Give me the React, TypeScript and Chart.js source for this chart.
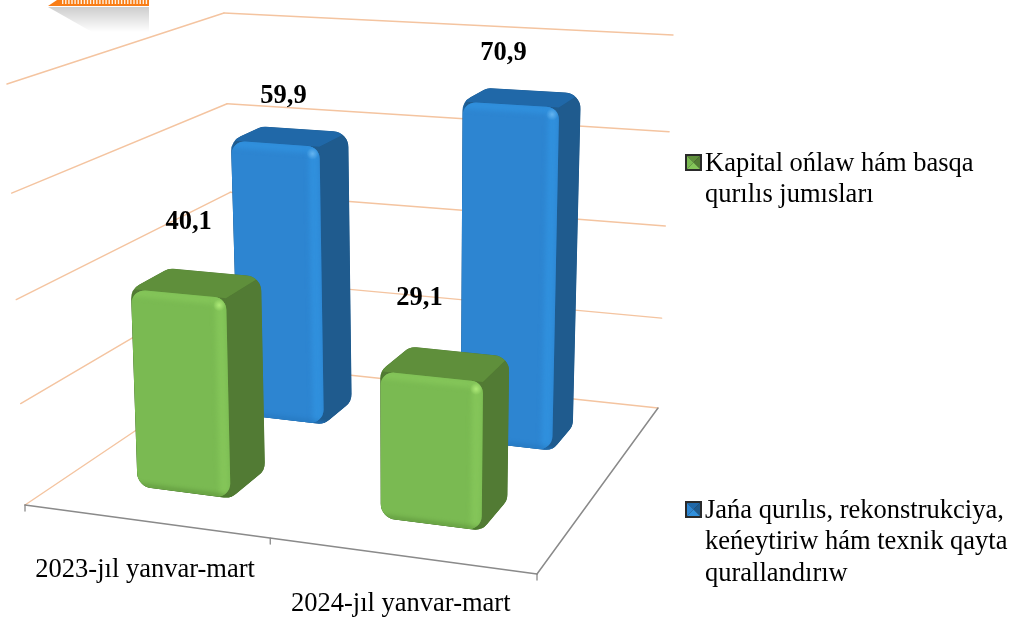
import React, { useEffect, useRef } from "react";
import { Chart, registerables } from "chart.js";
Chart.register(...registerables);

const categories = ["2023-jıl yanvar-mart", "2024-jıl yanvar-mart"];
const greenName = "Kapital ońlaw hám basqa qurılıs jumısları";
const blueName = "Jańa qurılıs, rekonstrukciya, keńeytiriw hám texnik qayta qurallandırıw";
const greenValues = [40.1, 29.1];
const blueValues = [59.9, 70.9];
const greenLegendLines = ["Kapital ońlaw hám basqa", "qurılıs jumısları"];
const blueLegendLines = ["Jańa qurılıs, rekonstrukciya,", "keńeytiriw hám texnik qayta", "qurallandırıw"];

type P = [number, number];
const FLOOR: P[] = [[25, 505], [537, 574], [658, 408], [236, 363]];
const TOP: P[] = [[7, 84], [544.5, 118], [673, 35], [224, 13]];
const FONT = '"Liberation Serif", serif';
const FONT_SIZE = 26.5;
const DEPTH = 0.17;
const DEPTH_CENTRES = [0.25, 0.73];
const U_SHIFTS = [0.002, 0.008];
const TOP_DROP = 0.01;
const GRID = "#f4c4a0";
const AXIS = "#8a8a8a";

const PALETTE = [
  { front: "#7aba52", rim: "#84c559", side: "#527b34", top: "#5f8f3b", edge: "#4a7a2c", spot: "#aeea78" },
  { front: "#2d85d1", rim: "#3090dd", side: "#1f5b8e", top: "#2068a8", edge: "#1f6cb0", spot: "#64b4f0" },
];
const LABEL_OFFSETS: P[][] = [
  [[-7, -59], [-25, -64]],
  [[-3, -38], [-15, -42]],
];
const LEGENDS = [
  { lines: greenLegendLines, marker: [685, 154], x: 705, y: [171, 202] },
  { lines: blueLegendLines, marker: [685, 501], x: 705, y: [518, 549, 581] },
];
const CATEGORY_LABEL_DY = 47.5;

function homography(q: P[]) {
  const [[x0, y0], [x1, y1], [x2, y2], [x3, y3]] = q;
  const dx1 = x1 - x2, dx2 = x3 - x2, sx = x0 - x1 + x2 - x3;
  const dy1 = y1 - y2, dy2 = y3 - y2, sy = y0 - y1 + y2 - y3;
  const den = dx1 * dy2 - dx2 * dy1;
  const g = (sx * dy2 - dx2 * sy) / den;
  const h = (dx1 * sy - sx * dy1) / den;
  const a = x1 - x0 + g * x1, b = x3 - x0 + h * x3, c = x0;
  const d = y1 - y0 + g * y1, e = y3 - y0 + h * y3, f = y0;
  return (u: number, v: number): P => {
    const w = g * u + h * v + 1;
    return [(a * u + b * v + c) / w, (d * u + e * v + f) / w];
  };
}
const floorH = homography(FLOOR);
const topH = homography(TOP);
function project(u: number, d: number, v: number): P {
  const a = floorH(u, d), b = topH(u, d);
  const s = v / (v + (1 - v) * 1.05);
  return [a[0] + (b[0] - a[0]) * s, a[1] + (b[1] - a[1]) * s];
}

function poly(ctx: CanvasRenderingContext2D, pts: P[], r = 0) {
  ctx.beginPath();
  const n = pts.length;
  if (!r) {
    pts.forEach((p, i) => (i ? ctx.lineTo(p[0], p[1]) : ctx.moveTo(p[0], p[1])));
  } else {
    const m: P = [(pts[n - 1][0] + pts[0][0]) / 2, (pts[n - 1][1] + pts[0][1]) / 2];
    ctx.moveTo(m[0], m[1]);
    for (let i = 0; i < n; i++) {
      const a = pts[i], b = pts[(i + 1) % n];
      const l1 = Math.hypot(b[0] - a[0], b[1] - a[1]);
      const rr = Math.min(r, l1 / 2.2);
      ctx.arcTo(a[0], a[1], b[0], b[1], rr);
    }
  }
  ctx.closePath();
}
function line(ctx: CanvasRenderingContext2D, a: P, b: P, color: string, w: number) {
  ctx.strokeStyle = color;
  ctx.lineWidth = w;
  ctx.beginPath();
  ctx.moveTo(a[0], a[1]);
  ctx.lineTo(b[0], b[1]);
  ctx.stroke();
}
const shift = (p: P, dx: number, dy: number): P => [p[0] + dx, p[1] + dy];

function drawBar(ctx: CanvasRenderingContext2D, uL: number, uR: number, dF: number, dB: number, v: number, c: typeof PALETTE[0]) {
  const FLb = project(uL, dF, 0), FRb = project(uR, dF, 0), BRb = project(uR, dB, 0);
  const FLt = project(uL, dF, v), FRt = project(uR, dF, v), BRt = project(uR, dB, v), BLt = project(uL, dB, v);
  ctx.save();
  poly(ctx, [FLb, FRb, BRb, BRt, BLt, FLt], 16);
  ctx.fillStyle = c.side;
  ctx.fill();
  ctx.clip();
  poly(ctx, [FLt, FRt, BRt, BLt]);
  ctx.fillStyle = c.top;
  ctx.fill();
  poly(ctx, [FRb, BRb, BRt, FRt]);
  ctx.fillStyle = c.side;
  ctx.fill();
  ctx.save();
  ctx.filter = "blur(1.5px)";
  line(ctx, FLb, FRb, c.edge, 6);
  line(ctx, FLb, FLt, c.edge, 3);
  ctx.restore();
  poly(ctx, [FLb, FRb, FRt, FLt], 13);
  ctx.fillStyle = c.front;
  ctx.fill();
  ctx.save();
  poly(ctx, [FLb, FRb, FRt, FLt], 13);
  ctx.clip();
  ctx.filter = "blur(2.5px)";
  line(ctx, shift(FLt, 0, 3), shift(FRt, 0, 3), c.rim, 8);
  line(ctx, shift(FRt, -6, 0), shift(FRb, -6, 0), c.rim, 10);
  line(ctx, shift(FLb, 0, -1), shift(FRb, 0, -1), c.edge, 2);
  ctx.restore();
  const sp = shift(FRt, -7, 7);
  const g = ctx.createRadialGradient(sp[0], sp[1], 0, sp[0], sp[1], 6);
  g.addColorStop(0, c.spot);
  g.addColorStop(1, c.spot + "00");
  ctx.fillStyle = g;
  ctx.fillRect(sp[0] - 6, sp[1] - 6, 12, 12);
  ctx.restore();
}

function drawBadge(ctx: CanvasRenderingContext2D) {
  const g = ctx.createLinearGradient(0, 7, 0, 32);
  g.addColorStop(0, "#cdcdcd");
  g.addColorStop(1, "#ffffff");
  ctx.fillStyle = g;
  ctx.beginPath();
  ctx.moveTo(48, 7);
  ctx.lineTo(149, 7);
  ctx.lineTo(149, 32);
  ctx.lineTo(92, 32);
  ctx.closePath();
  ctx.fill();
  ctx.fillStyle = "#f97d16";
  ctx.beginPath();
  ctx.moveTo(48, 6);
  ctx.lineTo(57, 0);
  ctx.lineTo(149, 0);
  ctx.lineTo(149, 6);
  ctx.closePath();
  ctx.fill();
  ctx.fillStyle = "#fff0e0";
  for (let x = 62; x < 148; x += 3.1) ctx.fillRect(x, 0, 1.4, 4);
}

function drawMarker(ctx: CanvasRenderingContext2D, x: number, y: number, c: typeof PALETTE[0]) {
  const s = 17;
  ctx.fillStyle = "#2a2a2a";
  ctx.fillRect(x, y, s, s);
  const i = 2, cx = x + s / 2, cy = y + s / 2;
  const tri = (a: P, b: P, col: string) => {
    ctx.fillStyle = col;
    ctx.beginPath();
    ctx.moveTo(a[0], a[1]);
    ctx.lineTo(b[0], b[1]);
    ctx.lineTo(cx, cy);
    ctx.closePath();
    ctx.fill();
  };
  const tl: P = [x + i, y + i], tr: P = [x + s - i, y + i], bl: P = [x + i, y + s - i], br: P = [x + s - i, y + s - i];
  tri(tl, tr, c.top);
  tri(tr, br, c.side);
  tri(br, bl, c.rim);
  tri(bl, tl, c.front);
}

const scene3d = {
  id: "scene3d",
  beforeDatasetsDraw(chart: any) {
    const ctx: CanvasRenderingContext2D = chart.ctx;
    const area = chart.chartArea;
    const xs = chart.scales.x, ys = chart.scales.y;
    const toU = (px: number) => (px - area.left) / area.width;
    const toV = (px: number) => (area.bottom - px) / area.height;
    ctx.save();
    drawBadge(ctx);
    ctx.lineCap = "round";
    for (const t of ys.ticks) {
      const v = toV(ys.getPixelForValue(t.value));
      const a = project(0, 0, v), b = project(0, 1, v), c = project(1, 1, v);
      line(ctx, a, b, GRID, 1.4);
      line(ctx, b, c, GRID, 1.4);
    }
    line(ctx, project(0, 0, 0), project(1, 0, 0), AXIS, 1.5);
    line(ctx, project(1, 0, 0), project(1, 1, 0), AXIS, 1.5);
    for (let i = 0; i <= categories.length; i++) {
      const p = project(i / categories.length, 0, 0);
      line(ctx, p, [p[0], p[1] + 6], AXIS, 1.3);
    }
    const n = chart.data.datasets.length;
    for (let di = n - 1; di >= 0; di--) {
      const meta = chart.getDatasetMeta(di);
      const dc = DEPTH_CENTRES[di];
      const us = U_SHIFTS[di];
      meta.data.forEach((el: any) => {
        const uL = toU(el.x - el.width / 2) + us, uR = toU(el.x + el.width / 2) + us;
        drawBar(ctx, uL, uR, dc - DEPTH / 2, dc + DEPTH / 2, toV(el.y) - TOP_DROP, PALETTE[di]);
      });
    }
    ctx.fillStyle = "#000";
    ctx.textAlign = "center";
    ctx.textBaseline = "alphabetic";
    ctx.font = `bold ${FONT_SIZE}px ${FONT}`;
    chart.data.datasets.forEach((ds: any, di: number) => {
      const meta = chart.getDatasetMeta(di);
      const dc = DEPTH_CENTRES[di];
      meta.data.forEach((el: any, i: number) => {
        const p = project(toU(el.x), dc, toV(el.y));
        const o = LABEL_OFFSETS[di][i];
        ctx.fillText(String(ds.data[i].toFixed(1)).replace(".", ","), p[0] + o[0], p[1] + o[1] + 9);
      });
    });
    ctx.font = `${FONT_SIZE}px ${FONT}`;
    categories.forEach((label, i) => {
      const p = project(toU(xs.getPixelForValue(i)), 0, 0);
      ctx.fillText(label, p[0], p[1] + CATEGORY_LABEL_DY + 8);
    });
    ctx.textAlign = "left";
    LEGENDS.forEach((l, i) => {
      drawMarker(ctx, l.marker[0], l.marker[1], PALETTE[i]);
      ctx.fillStyle = "#000";
      l.lines.forEach((t, k) => ctx.fillText(t, l.x, l.y[k]));
    });
    ctx.restore();
    return false;
  },
};

export default function App() {
  const ref = useRef<HTMLCanvasElement>(null);
  useEffect(() => {
    document.body.style.margin = "0";
    document.body.style.background = "#fff";
    const chart = new Chart(ref.current!, {
      type: "bar",
      data: {
        labels: categories,
        datasets: [
          { label: greenName, data: greenValues, backgroundColor: PALETTE[0].front },
          { label: blueName, data: blueValues, backgroundColor: PALETTE[1].front },
        ],
      },
      options: {
        animation: false,
        responsive: false,
        layout: { padding: 0 },
        datasets: { bar: { grouped: false, categoryPercentage: 1, barPercentage: 0.392 } },
        plugins: { legend: { display: false }, tooltip: { enabled: false } },
        scales: {
          x: { display: false },
          y: { display: false, min: 0, max: 80, ticks: { stepSize: 20 } },
        },
      } as any,
      plugins: [scene3d as any],
    });
    return () => chart.destroy();
  }, []);
  return <canvas ref={ref} width={1013} height={617} style={{ display: "block" }} />;
}
